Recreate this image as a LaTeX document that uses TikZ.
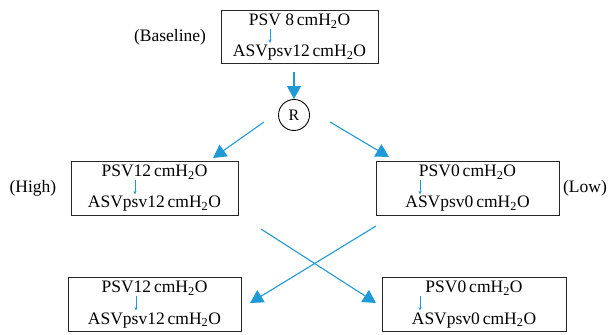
\documentclass[tikz,border=0pt]{standalone}
\usepackage{fontspec}
\setmainfont{Liberation Serif}
\usetikzlibrary{arrows.meta,calc}
\definecolor{flowblue}{RGB}{30,155,215}
\tikzset{
  boxframe/.style={draw=black!85,line width=0.9pt,inner sep=0pt},
  linetext/.style={anchor=base,inner sep=0pt,font=\fontsize{17.5}{20}\selectfont},
  sidelabel/.style={font=\fontsize{17.5}{20}\selectfont,inner sep=0pt},
  tinyarrow/.style={draw=flowblue,line width=0.7pt,-{Stealth[length=3.5pt,width=3pt]}},
  bigarrow/.style={draw=flowblue,line width=1.1pt,-{Triangle[length=13pt,width=14pt]}}
}
\newcommand{\mkbox}[8]{%
  \node[boxframe,minimum width=#4pt,minimum height=#5pt] (#1) at (#2,#3) {};
  \node[linetext] (#1a) at ($(#1.center)+(0,11)$) {#6};
  \node[linetext] (#1b) at ($(#1.center)+(0,-20)$) {#7};
  \draw[tinyarrow] ($(#1.center)+(#8,7.5)$) -- ($(#1.center)+(#8,-6.5)$);
}
\begin{document}
\begin{tikzpicture}[x=1pt,y=1pt]
\useasboundingbox (0,0) rectangle (609,334);
\mkbox{top}{299.5}{297.5}{157}{53}{PSV 8\,cmH\textsubscript{2}O}{ASVpsv12\,cmH\textsubscript{2}O}{-29.5}
\mkbox{high}{154.5}{146}{167}{54}{PSV12\,cmH\textsubscript{2}O}{ASVpsv12\,cmH\textsubscript{2}O}{-19.5}
\mkbox{low}{467.5}{146}{183}{54}{PSV0\,cmH\textsubscript{2}O}{ASVpsv0\,cmH\textsubscript{2}O}{-47.5}
\mkbox{bl}{154.5}{30}{173}{54}{PSV12\,cmH\textsubscript{2}O}{ASVpsv12\,cmH\textsubscript{2}O}{-18.5}
\mkbox{br}{474}{30}{184}{54}{PSV0\,cmH\textsubscript{2}O}{ASVpsv0\,cmH\textsubscript{2}O}{-54}
\node[sidelabel] (lbase) at (170,297) {(Baseline)};
\node[sidelabel] (lhigh) at (33,146) {(High)};
\node[sidelabel] (llow) at (585,146) {(Low)};
\node[draw=black,line width=0.9pt,circle,minimum size=31pt,inner sep=0pt,font=\fontsize{16}{18}\selectfont] (R) at (294,219) {R};
\draw[bigarrow] ($(top.south)+(-5.5,-9)$) -- (R.north);
\coordinate (hs) at (264,212);
\coordinate (ht) at (213,176);
\coordinate (ls) at (330,212);
\coordinate (lt) at (389,177);
\draw[bigarrow] (hs) -- (ht);
\draw[bigarrow] (ls) -- (lt);
\coordinate (xa) at (261,105);
\coordinate (xat) at (376,31);
\coordinate (xb) at (376,108);
\coordinate (xbt) at (250,31);
\draw[bigarrow] (xa) -- (xat);
\draw[bigarrow] (xb) -- (xbt);
\end{tikzpicture}
\end{document}
